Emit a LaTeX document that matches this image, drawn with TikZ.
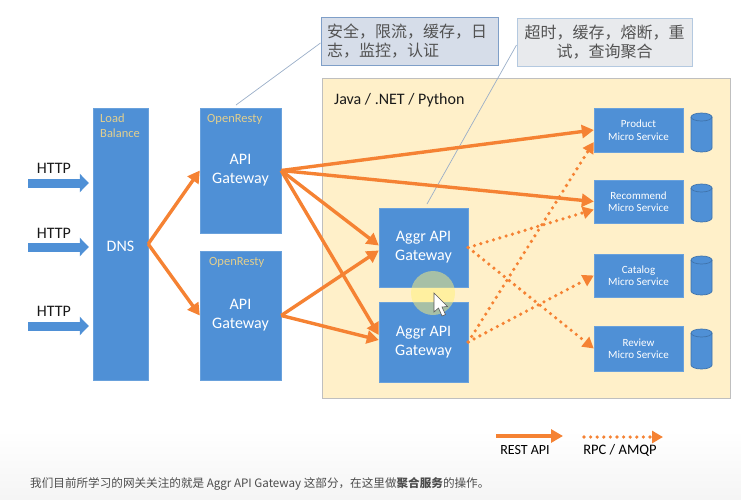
\documentclass[tikz,border=0pt]{standalone}
\usepackage{fontspec}
\setmainfont{Carlito}
\newfontfamily\cjk{Noto Sans CJK SC}
\usepackage{tikz}
\usetikzlibrary{arrows.meta,calc}
\definecolor{boxblue}{HTML}{4F90D6}
\definecolor{wireorange}{HTML}{F58233}
\definecolor{tantext}{HTML}{E2CF8E}
\definecolor{cream}{HTML}{FFF0C9}
\definecolor{tagfilla}{HTML}{D6DDE9}
\definecolor{tagfillb}{HTML}{E8EAED}
\definecolor{tagedgea}{HTML}{7F9FC8}
\definecolor{tagedgeb}{HTML}{B4C9E0}
\definecolor{tagwire}{HTML}{9AAEC8}
\tikzset{
    bluebox/.style={draw=boxblue!85!white, fill=boxblue, text=white, align=center, inner sep=0pt, execute at begin node={\rule{0pt}{16pt}}, font=\fontsize{16}{19}\selectfont},
    svcbox/.style={bluebox, minimum width=89pt, execute at begin node={\rule{0pt}{11pt}}, font=\fontsize{11}{12.5}\selectfont},
    tanlabel/.style={text=tantext, align=left, inner sep=0pt, font=\fontsize{12.5}{15}\selectfont},
    tagbox/.style={line width=1pt, inner sep=0pt, text=black!68, font=\cjk\fontsize{16}{18.5}\selectfont},
    dbcan/.style={draw=boxblue!80!black, fill=boxblue, line width=0.7pt},
    rest/.style={draw=wireorange, line width=3.4pt, -{Triangle[length=12pt,width=13pt]}},
    rpc/.style={draw=wireorange, line width=3.6pt, line cap=round, dash pattern=on 0pt off 6.6pt, -{Triangle[length=11pt,width=12pt]}},
    httparrow/.style={draw=boxblue, line width=9pt, shorten >=4pt, -{Triangle[length=9pt,width=18pt]}},
    tagline/.style={draw=tagwire, line width=0.7pt},
    plaintext/.style={inner sep=0pt, text=black!90, font=\fontsize{16}{18}\selectfont}
}
% centre x, top y, bottom y
\newcommand{\dbdraw}[3]{
    \filldraw[dbcan] (#1-10.5,#2+4) arc[start angle=180,end angle=0,x radius=10.5pt,y radius=4pt] -- (#1+10.5,#3-4) arc[start angle=0,end angle=-180,x radius=10.5pt,y radius=4pt] -- cycle;
    \draw[dbcan, fill=none] (#1-10.5,#2+4) arc[start angle=180,end angle=360,x radius=10.5pt,y radius=4pt];
}
\begin{document}
\begin{tikzpicture}[x=1pt,y=-1pt]
    \useasboundingbox (0,0) rectangle (741,499);
    \shade[top color=white, bottom color=black!4] (0,430) rectangle (741,499);
    % big box behind the services
    \node[draw=black!25, fill=cream, minimum width=408pt, minimum height=320pt, inner sep=0pt] (platform) at (526,238) {};
    \node[plaintext, anchor=west] (langs) at (334,100) {Java / .NET / Python};
    % left side
    \node[bluebox, minimum width=55pt, minimum height=272pt] (dns) at (120.5,244) {DNS};
    \node[tanlabel, anchor=north west] (lbal) at (100,114) {Load\\Balance};
    \node[bluebox, minimum width=81pt, minimum height=125pt] (gwa) at (240.5,170.5) {API\\Gateway};
    \node[tanlabel, anchor=west] (resta) at (207,119) {OpenResty};
    \node[bluebox, minimum width=81pt, minimum height=129pt] (gwb) at (240.5,315.5) {API\\Gateway};
    \node[tanlabel, anchor=west] (restb) at (209,262) {OpenResty};
    % aggregation
    \node[bluebox, minimum width=89pt, minimum height=79pt] (aggra) at (423.5,247.5) {Aggr API\\Gateway};
    \node[bluebox, minimum width=89pt, minimum height=80pt] (aggrb) at (423.5,342) {Aggr API\\Gateway};
    % services
    \node[svcbox, minimum height=44pt] (product) at (638.5,130) {Product\\Micro Service};
    \node[svcbox, minimum height=43pt] (recommend) at (638.5,201.5) {Recommend\\Micro Service};
    \node[svcbox, minimum height=43pt] (catalog) at (638.5,275.5) {Catalog\\Micro Service};
    \node[svcbox, minimum height=45pt] (review) at (638.5,348.5) {Review\\Micro Service};
    \dbdraw{701.5}{113}{152}
    \dbdraw{701.5}{184}{222}
    \dbdraw{701.5}{256}{295}
    \dbdraw{701.5}{329}{369}
    % tags on top
    \node[tagbox, draw=tagedgea, fill=tagfilla, minimum width=177pt, minimum height=48pt, align=left, text width=165pt] (taga) at (409.5,41) {安全，限流，缓存，日\\志，监控，认证};
    \node[tagbox, draw=tagedgeb, fill=tagfillb, minimum width=175pt, minimum height=48pt, align=center] (tagb) at (604.5,42) {超时，缓存，熔断，重\\试，查询聚合};
    \coordinate (gwatop) at (236,105);
    \coordinate (aggratop) at (427,204);
    \draw[tagline] ([yshift=-2pt]taga.west) -- (gwatop);
    \draw[tagline] ([yshift=-3pt]tagb.west) -- (aggratop);
    % http in
    \coordinate (httpa) at (28,183);
    \coordinate (httpb) at (28,247);
    \coordinate (httpc) at (28,326);
    \draw[httparrow] (httpa) -- (httpa -| dns.west);
    \draw[httparrow] (httpb) -- (httpb -| dns.west);
    \draw[httparrow] (httpc) -- (httpc -| dns.west);
    \node[plaintext] (httpta) at (54,168) {HTTP};
    \node[plaintext] (httptb) at (54,233) {HTTP};
    \node[plaintext] (httptc) at (54,311) {HTTP};
    % rest calls
    \draw[rest] (dns.east) -- (gwa.west);
    \draw[rest] (dns.east) -- (gwb.west);
    \draw[rest] (gwa.east) -- (product.west);
    \draw[rest] (gwa.east) -- (recommend.west);
    \draw[rest] (gwa.east) -- ([yshift=2pt]aggra.west);
    \draw[rest] (gwa.east) -- ([yshift=7pt]aggrb.west);
    \draw[rest] (gwb.east) -- ([yshift=-3pt]aggra.west);
    \draw[rest] (gwb.east) -- ([yshift=2pt]aggrb.west);
    % rpc calls
    \draw[rpc] (aggra.east) -- ([yshift=-8pt]recommend.west);
    \draw[rpc] (aggra.east) -- (review.west);
    \draw[rpc] (aggrb.east) -- ([yshift=-12pt]product.west);
    \draw[rpc] (aggrb.east) -- (catalog.west);
    % mouse pointer
    \fill[fill={rgb,255:red,255;green,240;blue,120}, opacity=0.5] (433,293) circle (22pt);
    \filldraw[fill=white, draw=black!65, line width=0.6pt] (434,293) -- (434,312) -- (438.5,308) -- (442,316) -- (445.5,314.5) -- (442,307) -- (447.5,306.5) -- cycle;
    % legend
    \coordinate (resta0) at (496,436);
    \coordinate (resta1) at (563,436);
    \coordinate (rpca0) at (584,437);
    \coordinate (rpca1) at (663,437);
    \draw[rest] (resta0) -- (resta1);
    \draw[rpc] (rpca0) -- (rpca1);
    \node[inner sep=0pt, font=\fontsize{14}{16}\selectfont] (restlabel) at (525,450) {REST API};
    \node[inner sep=0pt, font=\fontsize{14.5}{16}\selectfont] (rpclabel) at (620,450) {RPC / AMQP};
    % caption
    \node[anchor=west, inner sep=0pt, text=black!70, font=\cjk\fontsize{11.6}{13}\selectfont] (caption) at (30,484) {我们目前所学习的网关关注的就是 Aggr API Gateway 这部分，在这里做\textbf{聚合服务}的操作。};
\end{tikzpicture}
\end{document}
